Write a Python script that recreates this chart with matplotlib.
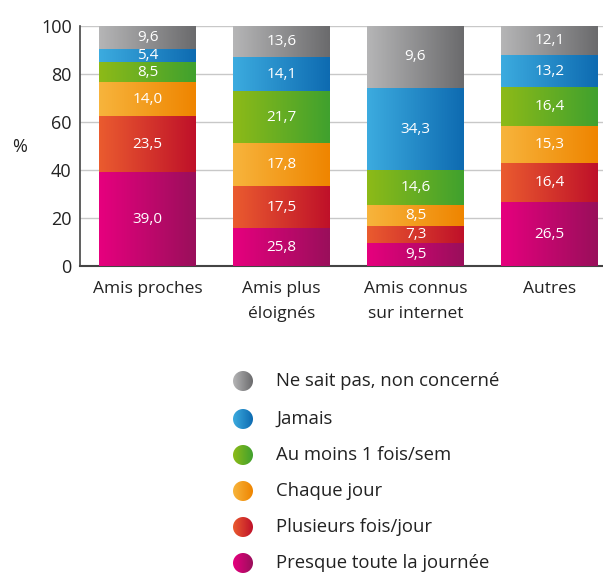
import numpy as np
import matplotlib
matplotlib.use('Agg')
from matplotlib import pyplot as plt
from matplotlib.colors import to_rgb
from matplotlib.patches import Circle

plt.rcParams['font.family'] = ['Open Sans', 'DejaVu Sans']

# categories
categories = ['Amis proches', 'Amis plus\néloignés', 'Amis connus\nsur internet', 'Autres']
series = ['Presque toute la journée', 'Plusieurs fois/jour', 'Chaque jour',
          'Au moins 1 fois/sem', 'Jamais', 'Ne sait pas, non concerné']

# heights as drawn in the picture (bottom -> top)
presque = [39.0, 15.8, 9.5, 26.5]
plusieurs = [23.5, 17.5, 7.3, 16.4]
chaque = [14.0, 17.8, 8.5, 15.3]
au_moins = [8.5, 21.7, 14.6, 16.4]
jamais = [5.4, 14.1, 34.3, 13.2]
ne_sait = [9.6, 13.6, 25.8, 12.1]

# labels printed on the segments
lab_presque = ['39,0', '25,8', '9,5', '26,5']
lab_plusieurs = ['23,5', '17,5', '7,3', '16,4']
lab_chaque = ['14,0', '17,8', '8,5', '15,3']
lab_au_moins = ['8,5', '21,7', '14,6', '16,4']
lab_jamais = ['5,4', '14,1', '34,3', '13,2']
lab_ne_sait = ['9,6', '13,6', '9,6', '12,1']

valeurs = [presque, plusieurs, chaque, au_moins, jamais, ne_sait]
etiquettes = [lab_presque, lab_plusieurs, lab_chaque, lab_au_moins, lab_jamais, lab_ne_sait]

# gradient colours (left, right)
couleurs = [('#e6007e', '#9a0f5b'),
            ('#ea5b2f', '#bf1129'),
            ('#f7b43c', '#ef8500'),
            ('#8dba18', '#40a12e'),
            ('#3cabdf', '#0e6bb1'),
            ('#b5b5b6', '#6b6b6d')]


def degrade(c1, c2, n=64):
    a = np.array(to_rgb(c1))
    b = np.array(to_rgb(c2))
    t = np.linspace(0, 1, n)[:, None]
    return (a + (b - a) * t)[None, :, :]


fig = plt.figure(figsize=(6.03, 5.74), dpi=100)
ax = fig.add_axes([80 / 603, 1 - 266 / 574, 523 / 603, 240 / 574])

x = np.arange(len(categories))
larg = 0.724
bas = np.zeros(len(categories))
for vals, labs, (c1, c2) in zip(valeurs, etiquettes, couleurs):
    img = degrade(c1, c2)
    for i in range(len(categories)):
        ax.imshow(img, extent=[x[i] - larg / 2, x[i] + larg / 2, bas[i], bas[i] + vals[i]],
                  aspect='auto', zorder=3, interpolation='bilinear')
        ax.text(x[i], bas[i] + vals[i] / 2, labs[i], ha='center', va='center',
                color='white', fontsize=11, zorder=4)
    bas += np.array(vals)

ax.set_xlim(-0.504, 3.40)
ax.set_ylim(0, 100)
ax.set_yticks([0, 20, 40, 60, 80, 100])
ax.set_xticks(x)
ax.set_xticklabels(categories, fontsize=12.5, linespacing=1.7, color='#222222')
ax.tick_params(axis='y', labelsize=13, length=0, pad=6, colors='#222222')
ax.tick_params(axis='x', length=0, pad=11)
ax.grid(axis='y', color='#c8c8c8', linewidth=1, zorder=0)
ax.set_axisbelow(True)
for s in ['top', 'right']:
    ax.spines[s].set_visible(False)
ax.spines['left'].set_color('#444444')
ax.spines['bottom'].set_color('#444444')
ax.spines['left'].set_linewidth(1.2)
ax.spines['bottom'].set_linewidth(1.5)
fig.text(20 / 603, 1 - 147 / 574, '%', fontsize=13, ha='center', va='center', color='#222222')

# legend drawn in pixel coordinates
lg = fig.add_axes([0, 0, 1, 1], zorder=5)
lg.set_xlim(0, 603)
lg.set_ylim(574, 0)
lg.axis('off')
ys = [381, 419, 455, 491, 527, 563]
for k, yy in enumerate(ys):
    idx = len(series) - 1 - k
    c1, c2 = couleurs[idx]
    im = lg.imshow(degrade(c1, c2), extent=[233, 253, yy + 10, yy - 10], aspect='auto',
                   interpolation='bilinear')
    circ = Circle((243, yy), 10, transform=lg.transData)
    im.set_clip_path(circ)
    lg.text(276, yy, series[idx], fontsize=13.3, va='center', ha='left', color='#222222')
lg.set_xlim(0, 603)
lg.set_ylim(574, 0)

fig.savefig('out.png', dpi=100)
